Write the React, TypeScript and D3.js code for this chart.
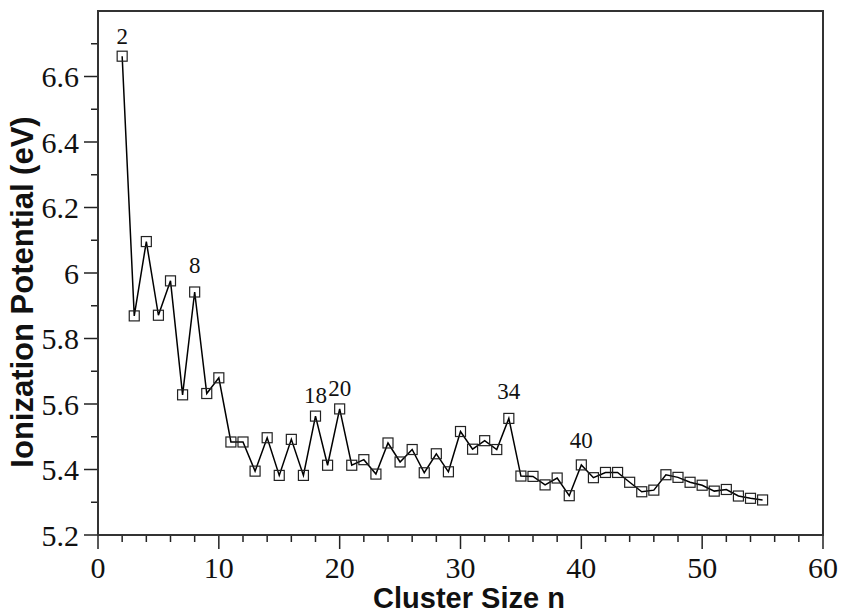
import React from "react";
import * as d3 from "d3";

const clusterSizes = [2,3,4,5,6,7,8,9,10,11,12,13,14,15,16,17,18,19,20,21,22,23,24,25,26,27,28,29,30,31,32,33,34,35,36,37,38,39,40,41,42,43,44,45,46,47,48,49,50,51,52,53,54,55];
const ionization = [6.662,5.869,6.096,5.871,5.976,5.628,5.942,5.632,5.680,5.484,5.484,5.395,5.497,5.382,5.492,5.382,5.563,5.413,5.585,5.413,5.430,5.386,5.481,5.423,5.461,5.390,5.448,5.393,5.516,5.462,5.488,5.461,5.556,5.380,5.379,5.353,5.374,5.320,5.414,5.375,5.391,5.391,5.361,5.332,5.337,5.384,5.376,5.361,5.352,5.334,5.339,5.319,5.312,5.307];
const labeledSizes = [2, 8, 18, 20, 34, 40];
const labelRaise = [12, 19, 13, 13, 19, 17];
const xTicks = [0, 10, 20, 30, 40, 50, 60];
const yTicks = [5.2, 5.4, 5.6, 5.8, 6, 6.2, 6.4, 6.6];

const W = 841, H = 613;
const L = 98, R = 823, T = 11, B = 535;

export default function App() {
  const x = d3.scaleLinear().domain([0, 60]).range([L, R]);
  const y = d3.scaleLinear().domain([5.2, 6.8]).range([B, T]);
  const pts: [number, number][] = clusterSizes.map((n, i) => [n, ionization[i]]);
  const line = d3.line<[number, number]>().x(d => x(d[0])).y(d => y(d[1]));
  const xMinor = d3.range(0, 61, 2).filter(v => v % 10 !== 0);
  const yMinor = d3.range(52, 68, 1).map(v => v / 10).filter(v => Math.round(v * 10) % 2 !== 0);
  const serif = "Liberation Serif, Tinos, Times New Roman, DejaVu Serif, serif";
  const sans = "Liberation Sans, Arimo, Arial, sans-serif";
  const sq = 10;
  return (
    <svg width={W} height={H} style={{ position: "absolute", left: 0, top: 0 }}>
      <rect width={W} height={H} fill="white" />
      {xTicks.map(v => (
        <line key={"xt" + v} x1={x(v)} x2={x(v)} y1={B} y2={B + 14} stroke="#222" strokeWidth={1.5} />
      ))}
      {xMinor.map(v => (
        <line key={"xm" + v} x1={x(v)} x2={x(v)} y1={B} y2={B + 7} stroke="#222" strokeWidth={1.5} />
      ))}
      {yTicks.map(v => (
        <line key={"yt" + v} x1={L - 14} x2={L} y1={y(v)} y2={y(v)} stroke="#222" strokeWidth={1.5} />
      ))}
      {yMinor.map(v => (
        <line key={"ym" + v} x1={L - 7} x2={L} y1={y(v)} y2={y(v)} stroke="#222" strokeWidth={1.5} />
      ))}
      {xTicks.map(v => (
        <text key={"xl" + v} x={x(v)} y={578} textAnchor="middle" style={{ fontFamily: serif }} fontSize={30} fill="#111">
          {v}
        </text>
      ))}
      {yTicks.map(v => (
        <text key={"yl" + v} x={79} y={y(v)} dy="0.35em" textAnchor="end" style={{ fontFamily: serif }} fontSize={30} fill="#111">
          {String(v)}
        </text>
      ))}
      <rect x={L} y={T} width={R - L} height={B - T} fill="none" stroke="#333" strokeWidth={2} />
      <path d={line(pts) || ""} fill="none" stroke="#000" strokeWidth={1.5} />
      {pts.map(([n, v]) => (
        <rect key={"p" + n} x={x(n) - sq / 2} y={y(v) - sq / 2} width={sq} height={sq} fill="none" stroke="#222" strokeWidth={1.2} />
      ))}
      {labeledSizes.map((n, i) => (
        <text key={"a" + n} x={x(n)} y={y(ionization[clusterSizes.indexOf(n)]) - labelRaise[i]} textAnchor="middle" style={{ fontFamily: serif }} fontSize={23} fill="#111">
          {n}
        </text>
      ))}
      <text x={469} y={608} textAnchor="middle" style={{ fontFamily: sans }} fontWeight="bold" fontSize={29} fill="#111">
        Cluster Size n
      </text>
      <text transform={`translate(33, 292) rotate(-90)`} textAnchor="middle" style={{ fontFamily: sans }} fontWeight="bold" fontSize={31} fill="#111">
        Ionization Potential (eV)
      </text>
    </svg>
  );
}
